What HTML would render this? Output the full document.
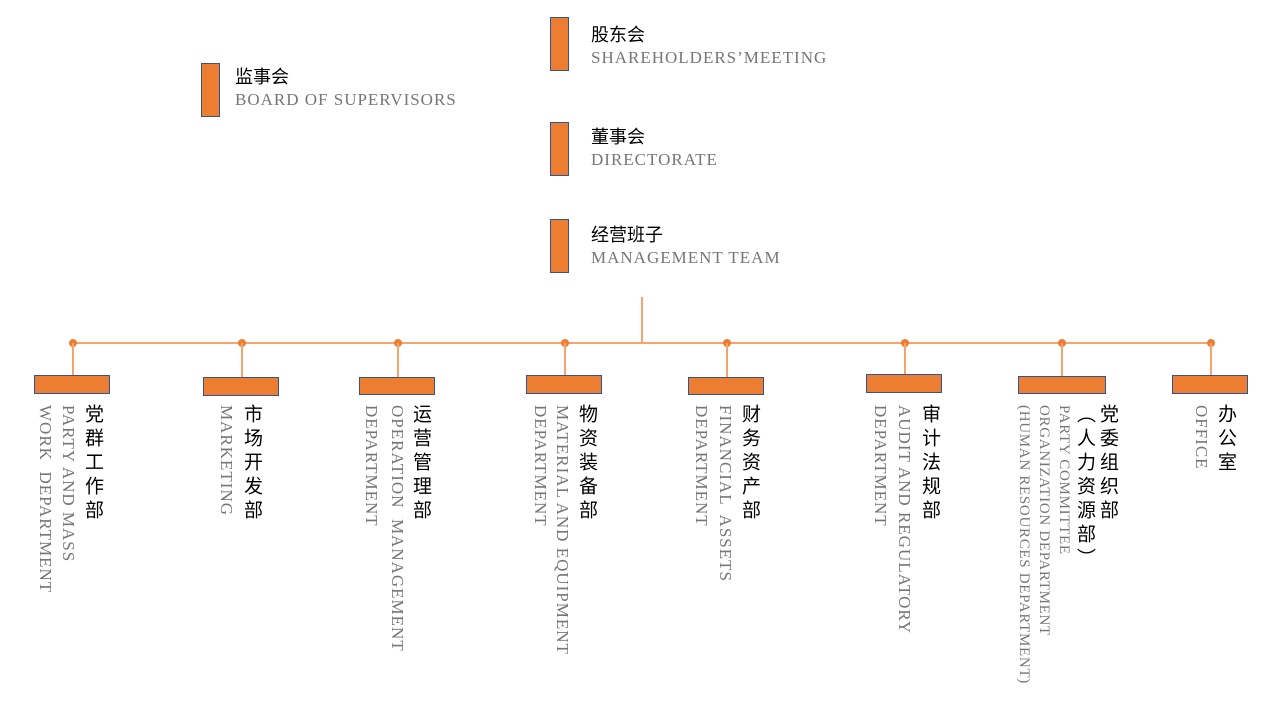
<!DOCTYPE html>
<html><head><meta charset="utf-8"><style>
body{margin:0;width:1281px;height:716px;background:#fff;position:relative;overflow:hidden;font-family:"Liberation Serif","Noto Serif CJK SC",serif}
.b{position:absolute;background:#ed7d31;border:1.5px solid #2f5597;box-sizing:border-box}
.zh{position:absolute;font-family:"Liberation Sans","Noto Sans CJK SC",sans-serif;font-size:18px;color:#000;white-space:nowrap;line-height:20px}
.en{position:absolute;font-size:17px;letter-spacing:1px;color:#767676;white-space:nowrap;line-height:20px}
.vz{position:absolute;top:404px;writing-mode:vertical-rl;font-family:"Liberation Sans","Noto Sans CJK SC",sans-serif;font-size:19px;letter-spacing:5px;line-height:22px;width:22px;color:#000;white-space:nowrap}
.ve{position:absolute;top:405px;writing-mode:vertical-rl;font-size:17px;letter-spacing:1px;line-height:22px;width:22px;color:#767676;white-space:pre}
.d{position:absolute;width:8px;height:8px;border-radius:50%;background:#ed7d31;top:339px}
.v{position:absolute;width:2px;background:#f4a46c}
</style></head><body>
<div class="b" style="left:550px;top:17px;width:19px;height:54px"></div>
<div class="zh" style="left:591px;top:25px">股东会</div>
<div class="en" style="left:591px;top:48px">SHAREHOLDERS’MEETING</div>
<div class="b" style="left:201px;top:63px;width:19px;height:54px"></div>
<div class="zh" style="left:235px;top:67px">监事会</div>
<div class="en" style="left:235px;top:90px">BOARD OF SUPERVISORS</div>
<div class="b" style="left:550px;top:122px;width:19px;height:54px"></div>
<div class="zh" style="left:591px;top:127px">董事会</div>
<div class="en" style="left:591px;top:150px">DIRECTORATE</div>
<div class="b" style="left:550px;top:219px;width:19px;height:54px"></div>
<div class="zh" style="left:591px;top:225px">经营班子</div>
<div class="en" style="left:591px;top:248px">MANAGEMENT TEAM</div>

<div class="v" style="left:641px;top:297px;height:46px"></div>
<div style="position:absolute;left:73px;top:342px;width:1138px;height:2px;background:#f4a46c"></div>

<div class="d" style="left:69px"></div><div class="v" style="left:72px;top:343px;height:33px"></div>
<div class="d" style="left:238px"></div><div class="v" style="left:241px;top:343px;height:35px"></div>
<div class="d" style="left:394px"></div><div class="v" style="left:397px;top:343px;height:35px"></div>
<div class="d" style="left:561px"></div><div class="v" style="left:564px;top:343px;height:33px"></div>
<div class="d" style="left:723px"></div><div class="v" style="left:726px;top:343px;height:35px"></div>
<div class="d" style="left:901px"></div><div class="v" style="left:904px;top:343px;height:32px"></div>
<div class="d" style="left:1058px"></div><div class="v" style="left:1061px;top:343px;height:34px"></div>
<div class="d" style="left:1207px"></div><div class="v" style="left:1210px;top:343px;height:33px"></div>

<div class="b" style="left:34px;top:375px;width:76px;height:19px"></div>
<div class="b" style="left:203px;top:377px;width:76px;height:19px"></div>
<div class="b" style="left:359px;top:377px;width:76px;height:18px"></div>
<div class="b" style="left:526px;top:375px;width:76px;height:19px"></div>
<div class="b" style="left:688px;top:377px;width:76px;height:18px"></div>
<div class="b" style="left:866px;top:374px;width:76px;height:19px"></div>
<div class="b" style="left:1018px;top:376px;width:88px;height:18px"></div>
<div class="b" style="left:1172px;top:375px;width:76px;height:19px"></div>

<div class="vz" style="left:81px">党群工作部</div>
<div class="ve" style="left:57px">PARTY AND MASS</div>
<div class="ve" style="left:34px">WORK  DEPARTMENT</div>

<div class="vz" style="left:240px">市场开发部</div>
<div class="ve" style="left:215px">MARKETING</div>

<div class="vz" style="left:409px">运营管理部</div>
<div class="ve" style="left:386px">OPERATION  MANAGEMENT</div>
<div class="ve" style="left:360px">DEPARTMENT</div>

<div class="vz" style="left:575px">物资装备部</div>
<div class="ve" style="left:551px">MATERIAL AND EQUIPMENT</div>
<div class="ve" style="left:529px">DEPARTMENT</div>

<div class="vz" style="left:738px">财务资产部</div>
<div class="ve" style="left:714px">FINANCIAL  ASSETS</div>
<div class="ve" style="left:690px">DEPARTMENT</div>

<div class="vz" style="left:918px">审计法规部</div>
<div class="ve" style="left:893px">AUDIT AND REGULATORY</div>
<div class="ve" style="left:869px">DEPARTMENT</div>

<div class="vz" style="left:1096px">党委组织部</div>
<div class="vz" style="left:1073px">（人力资源部）</div>
<div class="ve" style="left:1052px;font-size:15px;letter-spacing:0.7px;line-height:20px">PARTY COMMITTEE</div>
<div class="ve" style="left:1032px;font-size:15px;letter-spacing:0.7px;line-height:20px">ORGANIZATION DEPARTMENT</div>
<div class="ve" style="left:1012px;font-size:15px;letter-spacing:0.7px;line-height:20px">(HUMAN RESOURCES DEPARTMENT)</div>

<div class="vz" style="left:1214px">办公室</div>
<div class="ve" style="left:1190px">OFFICE</div>
</body></html>
